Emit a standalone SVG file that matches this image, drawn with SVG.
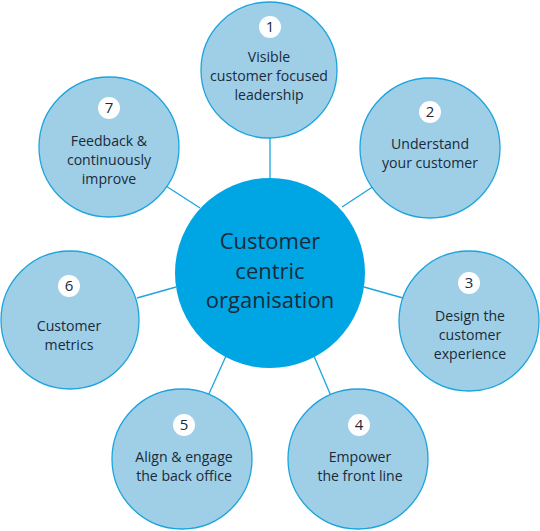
<svg xmlns="http://www.w3.org/2000/svg" width="540" height="531" viewBox="0 0 540 531">
<style>
.bg{fill:#ffffff}
.link{stroke:#1ca4de;stroke-width:1.3;fill:none}
.outer{fill:#9ecfe6;stroke:#1ca4de;stroke-width:1.3}
.center{fill:#00a5e3}
.badge{fill:#ffffff}
.num{font-family:"Open Sans","Noto Sans",sans-serif;font-size:15px;fill:#1b2a3a;text-anchor:middle}
.lbl{font-family:"Open Sans","Noto Sans",sans-serif;font-size:14.1px;fill:#1b2a3a;text-anchor:middle}
.big{font-family:"Open Sans","Noto Sans",sans-serif;font-size:22px;fill:#1b2a3a;text-anchor:middle}
</style>
<rect class="bg" x="0" y="0" width="540" height="531"/>
<g id="connectors">
<line class="link" x1="270" y1="136" x2="270" y2="180"/>
<line class="link" x1="342" y1="207" x2="374" y2="186"/>
<line class="link" x1="364" y1="287" x2="403" y2="298"/>
<line class="link" x1="314" y1="356" x2="331" y2="396"/>
<line class="link" x1="226" y1="356" x2="208" y2="396"/>
<line class="link" x1="137" y1="298" x2="176" y2="287"/>
<line class="link" x1="166" y1="186" x2="200" y2="208"/>
</g>
<g id="center">
<circle class="center" cx="270" cy="273" r="95"/>
<text class="big" x="270" y="249">Customer</text>
<text class="big" x="270" y="279">centric</text>
<text class="big" x="270" y="308">organisation</text>
</g>
<g id="node1">
<circle class="outer" cx="269" cy="70" r="68"/>
<circle class="badge" cx="270" cy="27" r="11"/>
<text class="num" x="270" y="32">1</text>
<text class="lbl" x="269" y="62">Visible</text>
<text class="lbl" x="269" y="81">customer focused</text>
<text class="lbl" x="269" y="100">leadership</text>
</g>
<g id="node2">
<circle class="outer" cx="430" cy="148" r="70"/>
<circle class="badge" cx="430" cy="112" r="11"/>
<text class="num" x="430" y="117">2</text>
<text class="lbl" x="430" y="149">Understand</text>
<text class="lbl" x="430" y="168">your customer</text>
</g>
<g id="node3">
<circle class="outer" cx="469" cy="321" r="70"/>
<circle class="badge" cx="469" cy="283" r="11"/>
<text class="num" x="469" y="288">3</text>
<text class="lbl" x="470" y="321">Design the</text>
<text class="lbl" x="470" y="340">customer</text>
<text class="lbl" x="470" y="359">experience</text>
</g>
<g id="node4">
<circle class="outer" cx="358" cy="459" r="70"/>
<circle class="badge" cx="359" cy="425" r="11"/>
<text class="num" x="359" y="430">4</text>
<text class="lbl" x="360" y="462">Empower</text>
<text class="lbl" x="360" y="481">the front line</text>
</g>
<g id="node5">
<circle class="outer" cx="182" cy="459" r="70"/>
<circle class="badge" cx="184" cy="425" r="11"/>
<text class="num" x="184" y="430">5</text>
<text class="lbl" x="184" y="462">Align &amp; engage</text>
<text class="lbl" x="184" y="481">the back office</text>
</g>
<g id="node6">
<circle class="outer" cx="70" cy="320" r="69"/>
<circle class="badge" cx="69" cy="286" r="11"/>
<text class="num" x="69" y="291">6</text>
<text class="lbl" x="69" y="331">Customer</text>
<text class="lbl" x="69" y="350">metrics</text>
</g>
<g id="node7">
<circle class="outer" cx="109" cy="147" r="70"/>
<circle class="badge" cx="109" cy="108" r="11"/>
<text class="num" x="109" y="113">7</text>
<text class="lbl" x="109" y="146">Feedback &amp;</text>
<text class="lbl" x="109" y="165">continuously</text>
<text class="lbl" x="109" y="184">improve</text>
</g>
</svg>
